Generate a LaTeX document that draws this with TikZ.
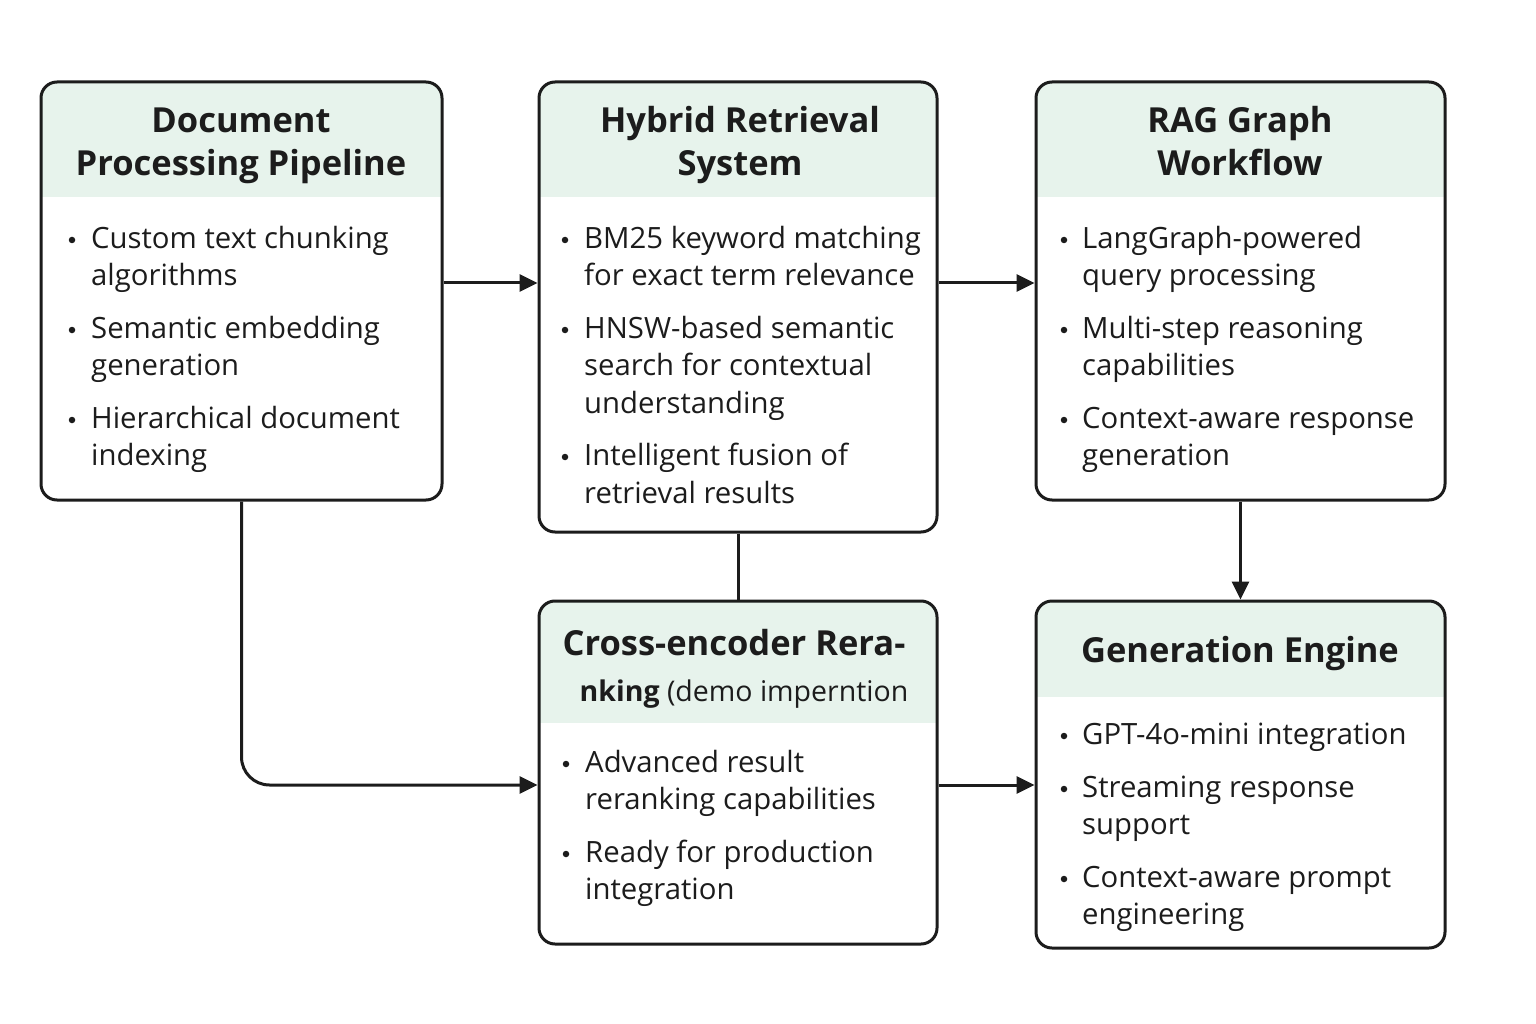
\documentclass[tikz,border=0pt]{standalone}
\usepackage{fontspec}
\setmainfont{Open Sans}
\usetikzlibrary{arrows.meta}
\definecolor{hdr}{HTML}{E7F3EC}
\definecolor{ink}{HTML}{1C1C1C}
\tikzset{
  box/.style={draw=ink, line width=3pt, rounded corners=16pt, inner sep=0pt},
  arr/.style={draw=ink, line width=3pt, -{Triangle[length=18pt,width=17pt]}},
  conn/.style={draw=ink, line width=3pt},
  ttl/.style={font=\fontsize{34.5}{40}\selectfont\bfseries, text=ink, anchor=mid, inner sep=0pt, yshift=-10pt},
  ttlreg/.style={font=\fontsize{28.5}{33}\selectfont, text=ink, anchor=mid, inner sep=0pt, yshift=-9pt},
  txt/.style={font=\fontsize{29.3}{33}\selectfont, text=ink, anchor=mid west, inner sep=0pt, yshift=-8pt},
  bul/.style={circle, fill=ink, inner sep=0pt, minimum size=6.5pt, yshift=-2pt},
}
\newcommand\tline[3]{\node[txt] (#1) at (#2) {#3};}
\newcommand\bdot[2]{\node[bul] (#1) at (#2) {};}
\newcommand\hdrband[5]{%
  \begin{scope}
    \clip[rounded corners=16pt] (#1,#2) rectangle (#3,#4);
    \fill[hdr] (#1,#2) rectangle (#3,#5);
  \end{scope}}
\begin{document}
\begin{tikzpicture}[x=1pt,y=-1pt]
\useasboundingbox[fill=white] (0,0) rectangle (1536,1024);

% header bands
\hdrband{41}{82}{442}{500}{197}
\hdrband{539}{82}{937}{532}{197}
\hdrband{1036}{82}{1445}{500}{197}
\hdrband{539}{601}{937}{944}{723}
\hdrband{1036}{601}{1445}{948}{697}

% boxes
\node[box, minimum width=401pt, minimum height=418pt] (b1) at (241.5,291) {};
\node[box, minimum width=398pt, minimum height=450pt] (b2) at (738,307) {};
\node[box, minimum width=409pt, minimum height=418pt] (b3) at (1240.5,291) {};
\node[box, minimum width=398pt, minimum height=343pt] (b4) at (738,772.5) {};
\node[box, minimum width=409pt, minimum height=347pt] (b5) at (1240.5,774.5) {};

% titles
\node[ttl] (t1a) at (241,120) {Document};
\node[ttl] (t1b) at (241,163) {Processing Pipeline};
\node[ttl] (t2a) at (740,120) {Hybrid Retrieval};
\node[ttl] (t2b) at (740,163) {System};
\node[ttl] (t3a) at (1240,120) {RAG Graph};
\node[ttl] (t3b) at (1240,163) {Workflow};
\node[ttl] (t4a) at (734,643) {Cross-encoder Rera-};
\node[ttlreg] (t4b) at (744,690) {\textbf{nking} (demo imperntion};
\node[ttl] (t5a) at (1240,650) {Generation Engine};

% box 1 text
\bdot{d1a}{72,238}\tline{l1a}{91,238}{Custom text chunking}
\tline{l1b}{91,275}{algorithms}
\bdot{d1b}{72,328}\tline{l1c}{91,328}{Semantic embedding}
\tline{l1d}{91,365}{generation}
\bdot{d1c}{72,418}\tline{l1e}{91,418}{Hierarchical document}
\tline{l1f}{91,455}{indexing}

% box 2 text
\bdot{d2a}{565,238}\tline{l2a}{584,238}{BM25 keyword matching}
\tline{l2b}{584,275}{for exact term relevance}
\bdot{d2b}{565,328}\tline{l2c}{584,328}{HNSW-based semantic}
\tline{l2d}{584,365}{search for contextual}
\tline{l2e}{584,403}{understanding}
\bdot{d2c}{565,455}\tline{l2f}{584,455}{Intelligent fusion of}
\tline{l2g}{584,493}{retrieval results}

% box 3 text
\bdot{d3a}{1064,238}\tline{l3a}{1082,238}{LangGraph-powered}
\tline{l3b}{1082,275}{query processing}
\bdot{d3b}{1064,328}\tline{l3c}{1082,328}{Multi-step reasoning}
\tline{l3d}{1082,365}{capabilities}
\bdot{d3c}{1064,418}\tline{l3e}{1082,418}{Context-aware response}
\tline{l3f}{1082,455}{generation}

% box 4 text
\bdot{d4a}{566,762}\tline{l4a}{585,762}{Advanced result}
\tline{l4b}{585,799}{reranking capabilities}
\bdot{d4b}{566,852}\tline{l4c}{585,852}{Ready for production}
\tline{l4d}{585,889}{integration}

% box 5 text
\bdot{d5a}{1064,734}\tline{l5a}{1082,734}{GPT-4o-mini integration}
\bdot{d5b}{1064,787}\tline{l5b}{1082,787}{Streaming response}
\tline{l5c}{1082,824}{support}
\bdot{d5c}{1064,877}\tline{l5d}{1082,877}{Context-aware prompt}
\tline{l5e}{1082,914}{engineering}

% connectors
\coordinate (r1) at ([yshift=8pt]b1.east);
\draw[arr] (r1) -- (r1 -| b2.west);
\draw[arr] (r1 -| b2.east) -- (r1 -| b3.west);
\draw[arr] (b3.south) -- (b5.north);
\draw[conn] (b2.south) -- (b4.north);
\coordinate (r2) at ([yshift=-12.5pt]b4.west);
\draw[arr, rounded corners=28pt] (b1.south) |- (r2);
\draw[arr] (r2 -| b4.east) -- (r2 -| b5.west);
\end{tikzpicture}
\end{document}
